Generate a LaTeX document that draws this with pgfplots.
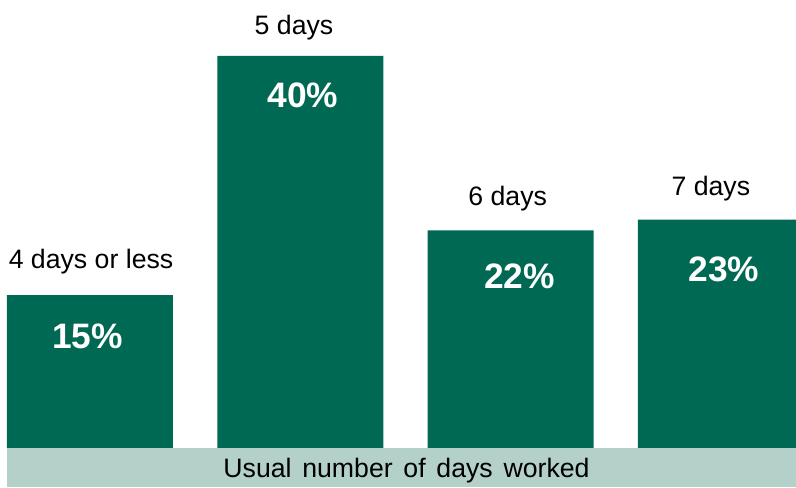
\documentclass[border=0pt]{standalone}
\usepackage{pgfplots}
\pgfplotsset{compat=1.18}
\usepackage{fontspec}
\setmainfont{Liberation Sans}
\newfontfamily\widesp[WordSpace=1.45]{Liberation Sans}
\definecolor{bargreen}{RGB}{0,105,84}
\definecolor{bandgreen}{RGB}{179,209,201}
\tikzset{
  pct/.style={font=\fontsize{26.5}{30}\selectfont\bfseries, text=white, anchor=base, inner sep=0pt},
  cat/.style={font=\fontsize{20}{24}\selectfont, anchor=base, inner sep=0pt},
}
\begin{document}
\begin{tikzpicture}
\begin{axis}[
  name=main,
  scale only axis, width=591.75pt, height=365.25pt,
  xmin=-0.3946, xmax=3.357, ymin=-3.98, ymax=45.71,
  hide axis, clip=true,
  ybar, bar width=124.5pt,
]
\fill[bandgreen] (axis cs:-0.3946,-3.98) rectangle (axis cs:3.357,0);
\addplot[fill=bargreen, draw=none] coordinates {(0,15.6) (1,40) (2,22.2) (3,23.3)};
\end{axis}
\begin{axis}[
  scale only axis, width=591.75pt, height=365.25pt,
  xmin=-0.3946, xmax=3.357, ymin=-3.98, ymax=45.71,
  hide axis, clip=false,
]
\node[font=\fontsize{20}{24}\selectfont\widesp, anchor=base, inner sep=0pt] at (axis cs:1.505,-3.06) {Usual number of days worked};
% percentage labels
\node[pct] at (axis cs:-0.012,15.6) [yshift=-39.75pt] {15\%};
\node[pct] at (axis cs:1.013,40) [yshift=-39pt] {40\%};
\node[pct] at (axis cs:2.042,22.2) [yshift=-43.5pt] {22\%};
\node[pct] at (axis cs:3.014,23.3) [yshift=-46.5pt] {23\%};
% category labels
\node[cat] at (axis cs:0.005,15.6) [yshift=20.25pt] {4 days or less};
\node[cat] at (axis cs:0.97,40) [yshift=15.75pt] {5 days};
\node[cat] at (axis cs:1.986,22.2) [yshift=18.75pt] {6 days};
\node[cat] at (axis cs:2.952,23.3) [yshift=18pt] {7 days};
\end{axis}
\pgfresetboundingbox
\path (main.south west) ++(-5.25pt,0) rectangle (main.north east);
\end{tikzpicture}
\end{document}
